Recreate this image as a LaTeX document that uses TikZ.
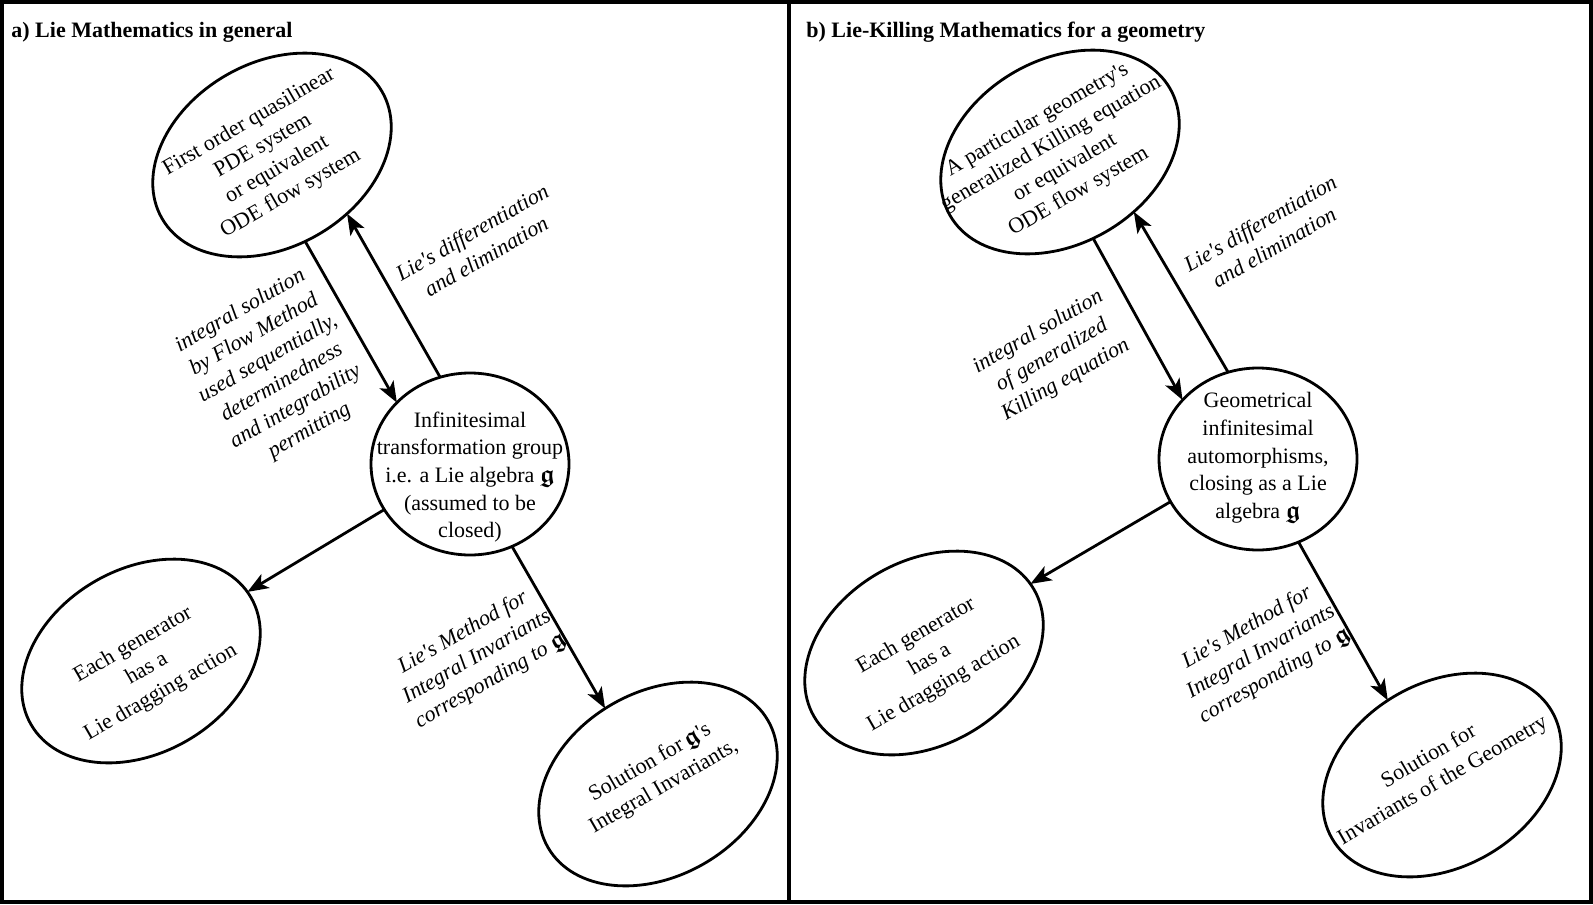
\documentclass[tikz,border=0pt]{standalone}
\usepackage{fontspec}
\setmainfont{Liberation Serif}[Ligatures=TeXOff]
\usepackage{amsmath,amssymb}
\usetikzlibrary{shapes.geometric,arrows.meta}
\newcommand{\fkg}{{\fontsize{12.5}{12.5}\selectfont$\boldsymbol{\mathfrak{g}}$}}
\tikzset{
  oval/.style={ellipse, draw, line width=1.4pt, minimum width=127pt, minimum height=92pt, inner sep=0pt, outer sep=0pt, rotate=30},
  hub/.style={ellipse, draw, line width=1.4pt, minimum width=99pt, minimum height=91pt, inner sep=0pt, outer sep=0pt},
  txt/.style={align=center, inner sep=0pt, font=\fontsize{11}{13.85}\selectfont},
  rtxt/.style={txt, rotate=30},
  lab/.style={align=center, inner sep=0pt, rotate=30, font=\fontsize{11}{13.85}\selectfont\itshape},
  arr/.style={line width=1.4pt, -{Stealth[length=10.5pt,width=8pt,inset=2.6pt]}},
  ttl/.style={anchor=base west, inner sep=0pt, font=\fontsize{11}{13.85}\selectfont\bfseries},
  panelline/.style={line width=2pt}
}
\begin{document}
\begin{tikzpicture}[x=0.5pt,y=-0.5pt]
\useasboundingbox (0,0) rectangle (1593,904);
\draw[panelline] (2,2) rectangle (1591,902);
\draw[panelline] (788.5,0) -- (788.5,904);

% titles
\node[ttl] (Ta) at (11,37.5) {a) Lie Mathematics in general};
\node[ttl] (Tb) at (806,37.5) {b) Lie-Killing Mathematics for a geometry};

% ---------------- panel a ----------------
\node[oval] (A1) at (272,155) {};
\node[rtxt] (A1t) at (270,158) {First order quasilinear\\PDE system\\or equivalent\\ODE flow system};
\node[hub] (A2) at (470,464) {};
\node[txt] (A2t) at (470,477) {Infinitesimal\\transformation group\\i.e. a Lie algebra \fkg\\(assumed to be\\closed)};
\node[oval] (A3) at (141,661) {};
\node[rtxt] (A3t) at (147,669) {Each generator\\has a\\Lie dragging action};
\node[oval] (A4) at (658,784) {};
\node[rtxt] (A4t) at (657,775) {Solution for\,\fkg's\\Integral Invariants,};

\node[lab] (La1) at (479,244) {Lie's differentiation\\and elimination};
\node[lab] (La2) at (275,371) {integral solution\\by Flow Method\\used sequentially,\\determinedness\\and integrability\\permitting};
\node[lab] (La3) at (477,657) {Lie's Method for\\Integral Invariants\\corresponding to \fkg};

\draw[arr] (A1.-99.4) -- (A2.140.1);
\draw[arr] (A2.109.8) -- (A1.-68.7);
\draw[arr] (A2.208.9) -- (A3.3.1);
\draw[arr] (A2.-63.4) -- (A4.95.9);

% ---------------- panel b ----------------
\node[oval] (B1) at (1060,152) {};
\node[rtxt] (B1t) at (1058,156) {A particular geometry's\\generalized Killing equation\\or equivalent\\ODE flow system};
\node[hub] (B2) at (1258,459) {};
\node[txt] (B2t) at (1258,458) {Geometrical\\infinitesimal\\automorphisms,\\closing as a Lie\\algebra \fkg};
\node[oval] (B3) at (924,653) {};
\node[rtxt] (B3t) at (930,660) {Each generator\\has a\\Lie dragging action};
\node[oval] (B4) at (1442,775) {};
\node[rtxt] (B4t) at (1436,769) {Solution for\\Invariants of the Geometry};

\node[lab] (Lb1) at (1267,235) {Lie's differentiation\\and elimination};
\node[lab] (Lb2) at (1052,356) {integral solution\\of generalized\\Killing equation};
\node[lab] (Lb3) at (1261,652) {Lie's Method for\\Integral Invariants\\corresponding to \fkg};

\draw[arr] (B1.-99.9) -- (B2.142);
\draw[arr] (B2.109.8) -- (B1.-69.1);
\draw[arr] (B2.206.6) -- (B3.3.1);
\draw[arr] (B2.-64) -- (B4.96.5);
\end{tikzpicture}
\end{document}
